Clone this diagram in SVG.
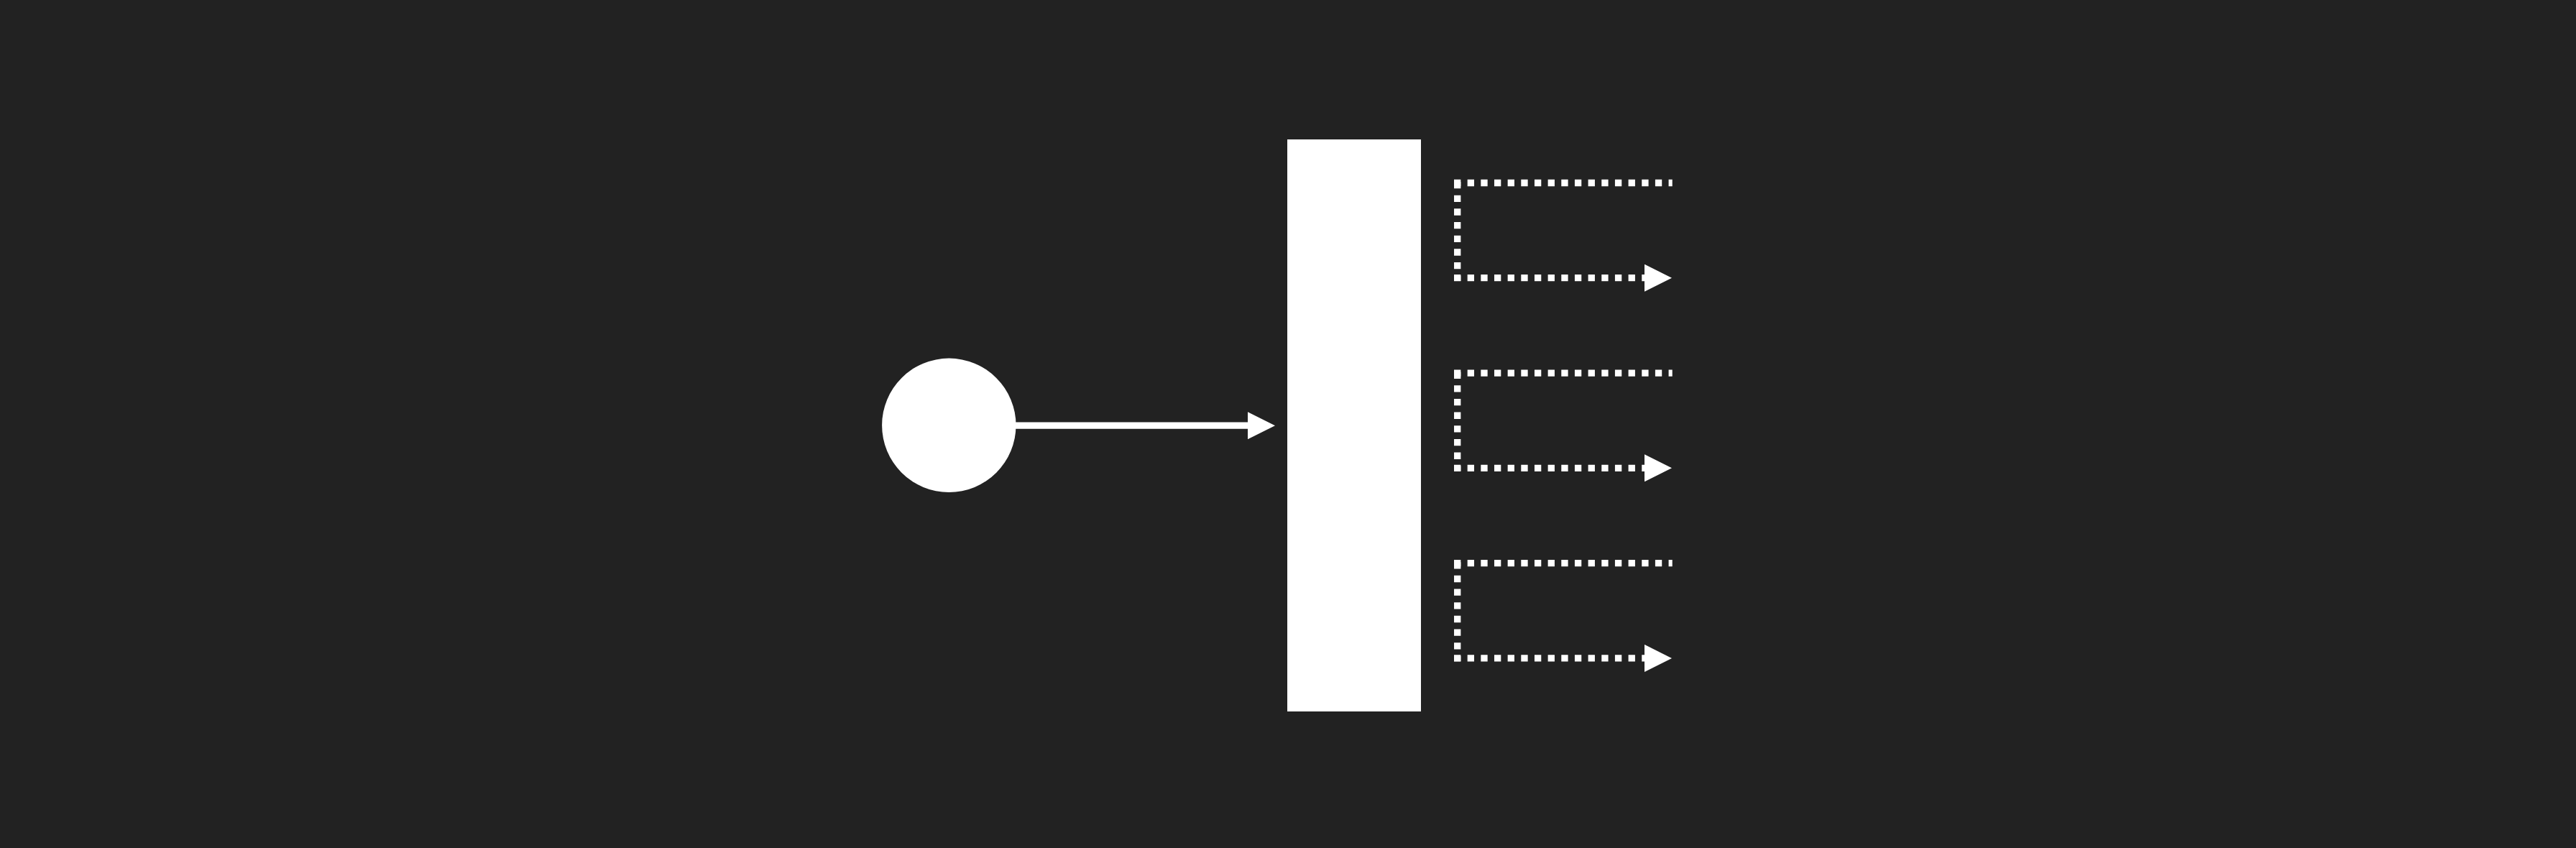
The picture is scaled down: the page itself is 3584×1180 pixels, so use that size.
<svg xmlns="http://www.w3.org/2000/svg" width="3584" height="1180" viewBox="0 0 3584 1180">
  <style>
    .solid { stroke: #ffffff; stroke-width: 9.33; fill: none; }
    .dot { stroke: #ffffff; stroke-width: 9.33; fill: none; stroke-dasharray: 9.33 9.33; }
    .node { fill: #ffffff; }
  </style>
  <defs>
    <marker id="arrow" markerUnits="userSpaceOnUse" markerWidth="38" markerHeight="38" viewBox="0 0 38 38" refX="5" refY="19" orient="auto">
      <path d="M0,0 L38,19 L0,38 Z" fill="#ffffff"/>
    </marker>
  </defs>
  <rect width="3584" height="1180" fill="#222222"/>
  <g id="source">
    <circle class="node" cx="1320.3" cy="591.8" r="93.2"/>
  </g>
  <g id="bar">
    <rect class="node" x="1791" y="194" width="186" height="796"/>
  </g>
  <g id="connectors">
    <line class="solid" x1="1408" y1="592.2" x2="1741" y2="592.2" marker-end="url(#arrow)"/>
    <g id="branch1">
      <line class="dot" x1="2023" y1="254.5" x2="2326.7" y2="254.5"/>
      <line class="dot" x1="2027.7" y1="253" x2="2027.7" y2="391"/>
      <line class="dot" x1="2023" y1="386.7" x2="2293" y2="386.7" marker-end="url(#arrow)"/>
    </g>
    <g id="branch2">
      <line class="dot" x1="2023" y1="519.1" x2="2326.7" y2="519.1"/>
      <line class="dot" x1="2027.7" y1="517.6" x2="2027.7" y2="655.6"/>
      <line class="dot" x1="2023" y1="651.3" x2="2293" y2="651.3" marker-end="url(#arrow)"/>
    </g>
    <g id="branch3">
      <line class="dot" x1="2023" y1="783.7" x2="2326.7" y2="783.7"/>
      <line class="dot" x1="2027.7" y1="782.2" x2="2027.7" y2="920.2"/>
      <line class="dot" x1="2023" y1="915.9" x2="2293" y2="915.9" marker-end="url(#arrow)"/>
    </g>
  </g>
</svg>
